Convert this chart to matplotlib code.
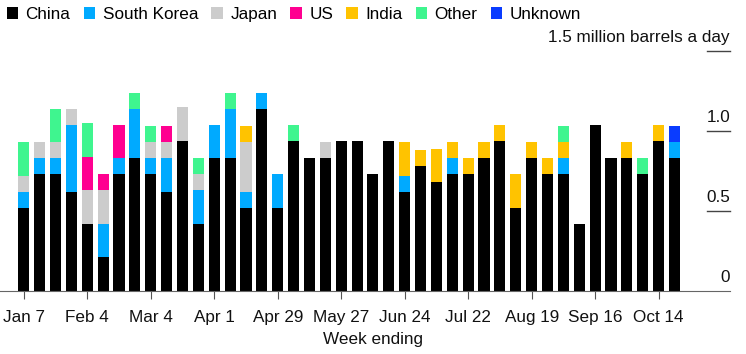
import matplotlib.pyplot as plt
from matplotlib.patches import Patch
from matplotlib.transforms import blended_transform_factory, offset_copy
import numpy as np

plt.rcParams['font.family'] = ['Liberation Sans', 'DejaVu Sans']
plt.rcParams['font.size'] = 12.3

# Weekly crude exports, million barrels a day (week ending Jan 7 .. Oct 21)
tick_labels = ['Jan 7', 'Feb 4', 'Mar 4', 'Apr 1', 'Apr 29', 'May 27',
               'Jun 24', 'Jul 22', 'Aug 19', 'Sep 16', 'Oct 14']

china = [0.52, 0.73, 0.73, 0.62, 0.42, 0.21, 0.73, 0.83, 0.73, 0.62,
         0.94, 0.42, 0.83, 0.83, 0.52, 1.14, 0.52, 0.94, 0.83, 0.83,
         0.94, 0.94, 0.73, 0.94, 0.62, 0.78, 0.68, 0.73, 0.73, 0.83,
         0.94, 0.52, 0.83, 0.73, 0.73, 0.42, 1.04, 0.83, 0.83, 0.73,
         0.94, 0.83]
south_korea = [0.10, 0.10, 0.10, 0.42, 0, 0.21, 0.10, 0.31, 0.10, 0.21,
               0, 0.21, 0.21, 0.31, 0.10, 0.10, 0.21, 0, 0, 0,
               0, 0, 0, 0, 0.10, 0, 0, 0.10, 0, 0,
               0, 0, 0, 0, 0.10, 0, 0, 0, 0, 0,
               0, 0.10]
japan = [0.10, 0.10, 0.10, 0.10, 0.21, 0.21, 0, 0, 0.10, 0.10,
         0.21, 0.10, 0, 0, 0.31, 0, 0, 0, 0, 0.10,
         0, 0, 0, 0, 0, 0, 0, 0, 0, 0,
         0, 0, 0, 0, 0, 0, 0, 0, 0, 0,
         0, 0]
us = [0, 0, 0, 0, 0.21, 0.10, 0.21, 0, 0, 0.10,
      0, 0, 0, 0, 0, 0, 0, 0, 0, 0,
      0, 0, 0, 0, 0, 0, 0, 0, 0, 0,
      0, 0, 0, 0, 0, 0, 0, 0, 0, 0,
      0, 0]
india = [0, 0, 0, 0, 0, 0, 0, 0, 0, 0,
         0, 0, 0, 0, 0.10, 0, 0, 0, 0, 0,
         0, 0, 0, 0, 0.21, 0.10, 0.21, 0.10, 0.10, 0.10,
         0.10, 0.21, 0.10, 0.10, 0.10, 0, 0, 0, 0.10, 0,
         0.10, 0]
other = [0.21, 0, 0.21, 0, 0.21, 0, 0, 0.10, 0.10, 0,
         0, 0.10, 0, 0.10, 0, 0, 0, 0.10, 0, 0,
         0, 0, 0, 0, 0, 0, 0, 0, 0, 0,
         0, 0, 0, 0, 0.10, 0, 0, 0, 0, 0.10,
         0, 0]
unknown = [0] * 41 + [0.10]

series = [
    ('China', china, '#000000'),
    ('South Korea', south_korea, '#00aaff'),
    ('Japan', japan, '#cccccc'),
    ('US', us, '#ff0090'),
    ('India', india, '#ffc300'),
    ('Other', other, '#3ff58f'),
    ('Unknown', unknown, '#0a3cff'),
]

fig = plt.figure(figsize=(7.46, 3.54), dpi=100)
ax = fig.add_axes([0, 63 / 354, 730 / 746, 240 / 354])

x = np.arange(len(china))
bottom = np.zeros(len(china))
for name, vals, color in series:
    vals = np.array(vals, dtype=float)
    ax.bar(x, vals, bottom=bottom, width=0.7, color=color, linewidth=0)
    bottom += vals

ax.set_xlim(-1.5, 44.5)
ax.set_ylim(0, 1.5)

# short gridline stubs on the right with labels above them
trans = blended_transform_factory(ax.transAxes, ax.transData)
label_trans = offset_copy(trans, fig=fig, y=4, units='points')
for val, lab in [(0, '0'), (0.5, '0.5'), (1.0, '1.0'), (1.5, '1.5 million barrels a day')]:
    if val > 0:
        ax.plot([0.9685, 1.0], [val, val], transform=trans, color='#444444',
                linewidth=1, clip_on=False)
    ax.text(1.0, val, lab, transform=label_trans, ha='right', va='bottom',
            color='#111111')

for s in ['top', 'right', 'left']:
    ax.spines[s].set_visible(False)
ax.spines['bottom'].set_color('#666666')
ax.set_yticks([])
ax.set_xticks(np.arange(0, 41, 4))
ax.set_xticklabels(tick_labels)
ax.tick_params(axis='x', length=6, color='#555555', pad=8, labelcolor='#111111')
ax.set_xlabel('Week ending', labelpad=6, color='#111111')
ax.xaxis.set_label_coords(0.511, -0.17)

handles = [Patch(facecolor=c, label=n) for n, _, c in series]
fig.legend(handles=handles, loc='upper left', bbox_to_anchor=(0.0, 1.0), ncol=7,
           frameon=False, handlelength=0.65, handleheight=0.65, handletextpad=0.45,
           columnspacing=0.78, borderaxespad=0.2, borderpad=0.2)

fig.savefig('out.png', dpi=100)
